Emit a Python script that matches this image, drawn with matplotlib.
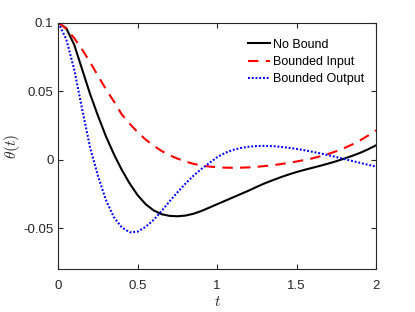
import matplotlib
matplotlib.use("Agg")
import matplotlib.pyplot as plt
import numpy as np

# time samples (s)
t = np.round(np.arange(0, 2.0001, 0.05), 2)

no_bound = [0.1000, 0.0960, 0.0840, 0.0660, 0.0480, 0.0320, 0.0170, 0.0040, -0.0075, -0.0175,
            -0.0260, -0.0325, -0.0370, -0.0398, -0.0410, -0.0413, -0.0408, -0.0395, -0.0375, -0.0350,
            -0.0325, -0.0300, -0.0275, -0.0250, -0.0225, -0.0198, -0.0172, -0.0150, -0.0128, -0.0108,
            -0.0090, -0.0074, -0.0059, -0.0044, -0.0028, -0.0011, 0.0008, 0.0028, 0.0050, 0.0076,
            0.0105]
bounded_input = [0.1000, 0.0958, 0.0888, 0.0805, 0.0712, 0.0612, 0.0515, 0.0425, 0.0330, 0.0262,
                 0.0200, 0.0147, 0.0102, 0.0064, 0.0033, 0.0008, -0.0013, -0.0030, -0.0042, -0.0050,
                 -0.0055, -0.0058, -0.0059, -0.0058, -0.0056, -0.0052, -0.0046, -0.0040, -0.0032, -0.0023,
                 -0.0013, -0.0002, 0.0010, 0.0025, 0.0042, 0.0062, 0.0085, 0.0111, 0.0141, 0.0176,
                 0.0215]
bounded_output = [0.1000, 0.0880, 0.0660, 0.0370, 0.0090, -0.0120, -0.0295, -0.0420, -0.0495, -0.0530,
                  -0.0525, -0.0490, -0.0440, -0.0375, -0.0305, -0.0238, -0.0175, -0.0118, -0.0068, -0.0025,
                  0.0018, 0.0050, 0.0072, 0.0086, 0.0095, 0.0100, 0.0101, 0.0099, 0.0094, 0.0087,
                  0.0079, 0.0069, 0.0058, 0.0046, 0.0033, 0.0019, 0.0005, -0.0009, -0.0023, -0.0037,
                  -0.0050]

xticks = [0, 0.5, 1, 1.5, 2]
xticklabels = ["0", "0.5", "1", "1.5", "2"]
yticks = [-0.05, 0, 0.05, 0.1]
yticklabels = ["-0.05", "0", "0.05", "0.1"]

plt.rcParams["font.family"] = ["Liberation Sans", "DejaVu Sans"]
plt.rcParams["mathtext.fontset"] = "cm"

fig = plt.figure(figsize=(4.15, 3.12), dpi=100)
ax = fig.add_axes([0.1405, 0.137, 0.7655, 0.790])

ax.plot(t, no_bound, color="black", lw=1.5, label="No Bound")
ax.plot(t, bounded_input, color="red", lw=1.5, ls=(0, (5, 3.5)), label="Bounded Input")
ax.plot(t, bounded_output, color="blue", lw=1.5, ls=(0, (0.9, 0.9)), label="Bounded Output")

ax.set_xlim(0, 2)
ax.set_ylim(-0.08, 0.1)
ax.set_xticks(xticks)
ax.set_xticklabels(xticklabels)
ax.set_yticks(yticks)
ax.set_yticklabels(yticklabels)

gray = "#262626"
for s in ax.spines.values():
    s.set_color(gray)
    s.set_linewidth(0.8)
ax.tick_params(direction="in", top=True, right=True, length=3.5, width=0.8,
               colors=gray, labelsize=9.5)
ax.tick_params(axis="x", pad=8)
ax.tick_params(axis="y", pad=3.5)

ax.set_xlabel(r"$t$", fontsize=11, color=gray, labelpad=2)
ax.set_ylabel(r"$\theta(t)$", fontsize=11, color=gray, labelpad=1)

ax.legend(loc="upper left", bbox_to_anchor=(0.598, 0.935), frameon=False,
          fontsize=9, handlelength=1.7, handletextpad=0.3, labelspacing=0.42,
          borderpad=0, borderaxespad=0)

fig.savefig("out.png", dpi=100)
